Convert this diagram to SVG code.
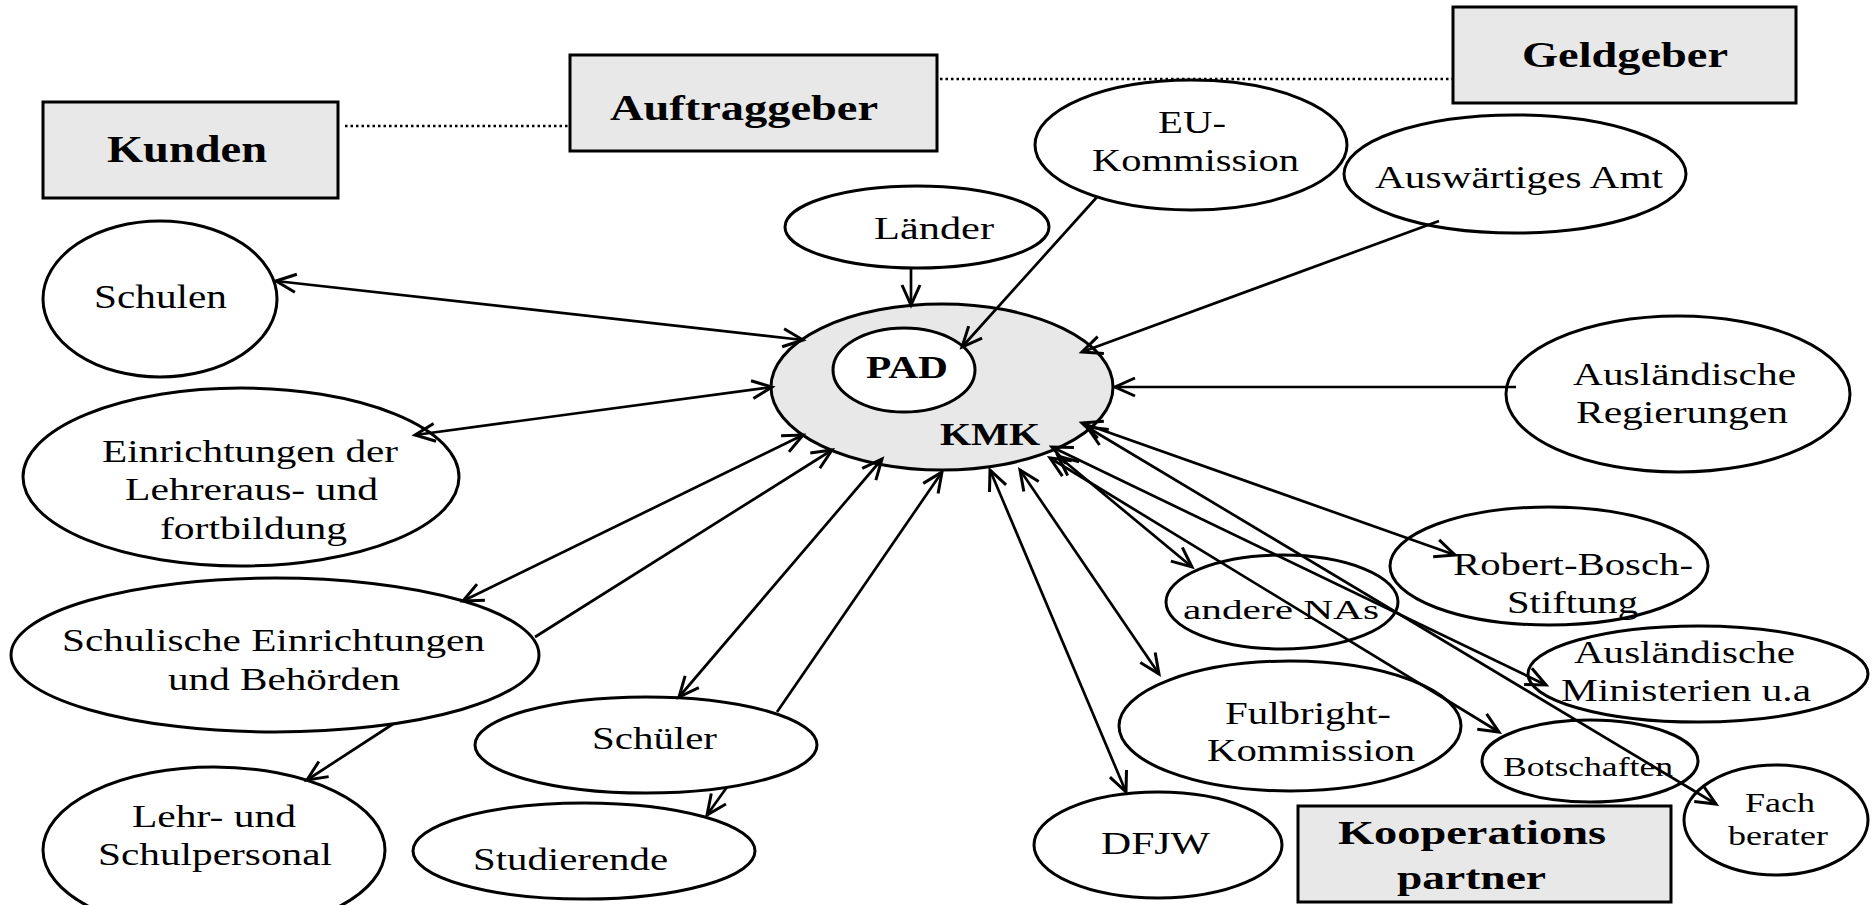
<svg xmlns="http://www.w3.org/2000/svg" width="1872" height="905" viewBox="0 0 1872 905">
<style>
.n{fill:#fff;stroke:#000;stroke-width:3}
.g{fill:#e8e8e8;stroke:#000;stroke-width:3}
text{font-family:"Liberation Serif","Times New Roman",serif;font-size:32px;fill:#000}
.s{font-size:27px}
.b{font-weight:bold}
.c line{stroke:#000;stroke-width:2.7;fill:none;marker-end:url(#ah)}
.c line.d{marker-start:url(#ah)}
.dot{stroke:#000;stroke-width:2.5;stroke-dasharray:2.5 3;fill:none}
</style>
<defs>
<marker id="ah" viewBox="-26 -14 30 28" markerWidth="30" markerHeight="28" refX="0" refY="0" orient="auto-start-reverse" markerUnits="userSpaceOnUse" overflow="visible">
<path d="M-20,-9 L0,0 L-20,9" fill="none" stroke="#000" stroke-width="3" stroke-linejoin="miter"/>
</marker>
</defs>
<rect width="1872" height="905" fill="#fff"/>
<g id="dotted">
<line class="dot" x1="345" y1="126" x2="570" y2="126"/>
<line class="dot" x1="940" y1="79" x2="1453" y2="79"/>
</g>
<g id="kunden"><rect class="g" x="43" y="102" width="295" height="96"/><text class="b" style="font-size:38px" x="107" y="162" textLength="160" lengthAdjust="spacingAndGlyphs">Kunden</text></g>
<g id="auftraggeber"><rect class="g" x="570" y="55" width="367" height="96"/><text class="b" style="font-size:35px" x="610" y="120" textLength="268" lengthAdjust="spacingAndGlyphs">Auftraggeber</text></g>
<g id="geldgeber"><rect class="g" x="1453" y="7" width="343" height="96"/><text class="b" style="font-size:35px" x="1522" y="67" textLength="206" lengthAdjust="spacingAndGlyphs">Geldgeber</text></g>
<g id="kooperationspartner"><rect class="g" x="1298" y="806" width="373" height="96"/><text class="b" style="font-size:33px" x="1338" y="844" textLength="268" lengthAdjust="spacingAndGlyphs">Kooperations</text><text class="b" style="font-size:33px" x="1397" y="889" textLength="149" lengthAdjust="spacingAndGlyphs">partner</text></g>

<g id="schulen"><ellipse class="n" cx="160" cy="299" rx="117" ry="78"/><text style="font-size:34px" x="94" y="308" textLength="133" lengthAdjust="spacingAndGlyphs">Schulen</text></g>
<g id="laender"><ellipse class="n" cx="917" cy="227" rx="132" ry="41"/><text x="874" y="239" textLength="120" lengthAdjust="spacingAndGlyphs">Länder</text></g>
<g id="kmk"><ellipse class="g" cx="942" cy="387" rx="171" ry="83"/><text class="b" x="940" y="445" textLength="100" lengthAdjust="spacingAndGlyphs">KMK</text></g>
<g id="pad"><ellipse class="n" cx="904" cy="370" rx="71" ry="42"/><text class="b" x="866" y="378" textLength="82" lengthAdjust="spacingAndGlyphs">PAD</text></g>
<g id="eu"><ellipse class="n" cx="1191" cy="145" rx="156" ry="65"/><text x="1158" y="133" textLength="68" lengthAdjust="spacingAndGlyphs">EU-</text><text x="1092" y="171" textLength="207" lengthAdjust="spacingAndGlyphs">Kommission</text></g>
<g id="auswaertiges"><ellipse class="n" cx="1515" cy="174" rx="171" ry="59"/><text x="1375" y="188" textLength="288" lengthAdjust="spacingAndGlyphs">Auswärtiges Amt</text></g>
<g id="regierungen"><ellipse class="n" cx="1678" cy="394" rx="172" ry="78"/><text x="1573" y="385" textLength="223" lengthAdjust="spacingAndGlyphs">Ausländische</text><text x="1576" y="423" textLength="212" lengthAdjust="spacingAndGlyphs">Regierungen</text></g>
<g id="einrichtungen"><ellipse class="n" cx="241" cy="477" rx="218" ry="89"/><text x="102" y="462" textLength="296" lengthAdjust="spacingAndGlyphs">Einrichtungen der</text><text x="125" y="500" textLength="253" lengthAdjust="spacingAndGlyphs">Lehreraus- und</text><text x="160" y="539" textLength="187" lengthAdjust="spacingAndGlyphs">fortbildung</text></g>
<g id="schulische"><ellipse class="n" cx="275" cy="655" rx="264" ry="77"/><text x="62" y="651" textLength="423" lengthAdjust="spacingAndGlyphs">Schulische Einrichtungen</text><text x="168" y="690" textLength="232" lengthAdjust="spacingAndGlyphs">und Behörden</text></g>
<g id="lehrpersonal"><ellipse class="n" cx="214" cy="850" rx="171" ry="83"/><text x="132" y="827" textLength="164" lengthAdjust="spacingAndGlyphs">Lehr- und</text><text x="98" y="865" textLength="234" lengthAdjust="spacingAndGlyphs">Schulpersonal</text></g>
<g id="schueler"><ellipse class="n" cx="646" cy="745" rx="171" ry="48"/><text x="592" y="749" textLength="125" lengthAdjust="spacingAndGlyphs">Schüler</text></g>
<g id="studierende"><ellipse class="n" cx="584" cy="851" rx="171" ry="48"/><text x="473" y="870" textLength="195" lengthAdjust="spacingAndGlyphs">Studierende</text></g>
<g id="bosch"><ellipse class="n" cx="1549" cy="566" rx="159" ry="59"/><text x="1453" y="575" textLength="240" lengthAdjust="spacingAndGlyphs">Robert-Bosch-</text><text x="1507" y="613" textLength="131" lengthAdjust="spacingAndGlyphs">Stiftung</text></g>
<g id="nas"><ellipse class="n" cx="1282" cy="602" rx="116" ry="47"/><text class="s" x="1183" y="619" textLength="196" lengthAdjust="spacingAndGlyphs">andere NAs</text></g>
<g id="ministerien"><ellipse class="n" cx="1698" cy="674" rx="170" ry="48"/><text x="1574" y="663" textLength="221" lengthAdjust="spacingAndGlyphs">Ausländische</text><text x="1561" y="701" textLength="250" lengthAdjust="spacingAndGlyphs">Ministerien u.a</text></g>
<g id="fulbright"><ellipse class="n" cx="1290" cy="726" rx="171" ry="65"/><text x="1225" y="724" textLength="166" lengthAdjust="spacingAndGlyphs">Fulbright-</text><text x="1207" y="761" textLength="208" lengthAdjust="spacingAndGlyphs">Kommission</text></g>
<g id="botschaften"><ellipse class="n" cx="1590" cy="761" rx="108" ry="41"/><text class="s" x="1503" y="776" textLength="170" lengthAdjust="spacingAndGlyphs">Botschaften</text></g>
<g id="fachberater"><ellipse class="n" cx="1776" cy="820" rx="92" ry="55"/><text class="s" x="1745" y="812" textLength="70" lengthAdjust="spacingAndGlyphs">Fach</text><text class="s" x="1728" y="845" textLength="100" lengthAdjust="spacingAndGlyphs">berater</text></g>
<g id="dfjw"><ellipse class="n" cx="1158" cy="845" rx="124" ry="53"/><text x="1101" y="854" textLength="109" lengthAdjust="spacingAndGlyphs">DFJW</text></g>

<g id="connectors" class="c">
<line x1="911" y1="269" x2="911" y2="305"/>
<line x1="1097" y1="197" x2="962" y2="347"/>
<line x1="1439" y1="221" x2="1082" y2="352"/>
<line x1="1516" y1="387" x2="1115" y2="387"/>
<line class="d" x1="276" y1="281" x2="803" y2="340"/>
<line class="d" x1="415" y1="435" x2="772" y2="387"/>
<line class="d" x1="463" y1="601" x2="803" y2="435"/>
<line x1="535" y1="637" x2="832" y2="450"/>
<line class="d" x1="679" y1="697" x2="882" y2="459"/>
<line x1="777" y1="712" x2="942" y2="472"/>
<line x1="393" y1="724" x2="307" y2="780"/>
<line x1="727" y1="787" x2="707" y2="815"/>
<line class="d" x1="990" y1="470" x2="1126" y2="792"/>
<line class="d" x1="1020" y1="470" x2="1159" y2="674"/>
<line class="d" x1="1058" y1="456" x2="1192" y2="567"/>
<line class="d" x1="1050" y1="458" x2="1499" y2="732"/>
<line class="d" x1="1052" y1="447" x2="1546" y2="685"/>
<line class="d" x1="1087" y1="427" x2="1716" y2="804"/>
<line class="d" x1="1082" y1="423" x2="1455" y2="555"/>
</g>
</svg>
